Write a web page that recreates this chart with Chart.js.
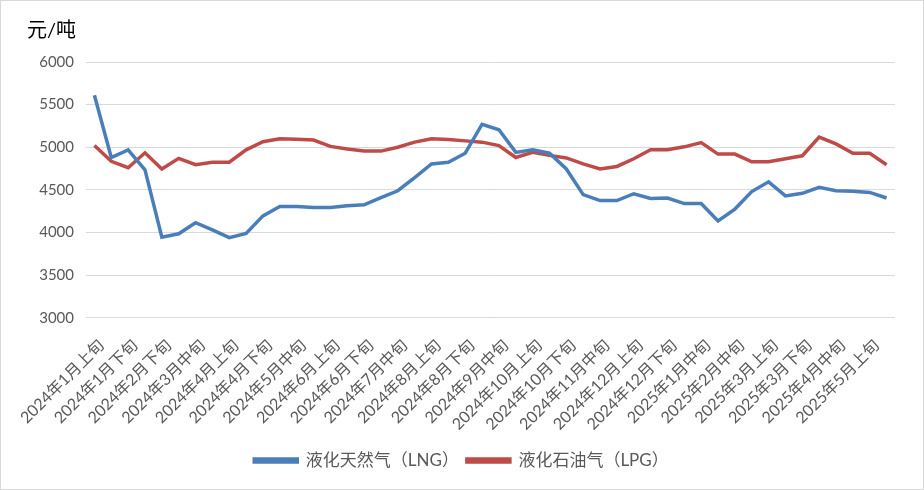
<!DOCTYPE html>
<html>
<head>
<meta charset="utf-8">
<script src="https://cdn.jsdelivr.net/npm/chart.js@4/dist/chart.umd.min.js"></script>
<style>
    html, body { margin: 0; padding: 0; background: #fff; }
    #wrap { width: 922px; height: 488px; border: 1px solid #d9d9d9; }
</style>
</head>
<body>
<div id="wrap"><canvas id="chart" width="922" height="488"></canvas></div>
<script>
// Periods (ten-day), one label shown every second period
const periods = [
    '2024年1月上旬', '2024年1月中旬', '2024年1月下旬', '2024年2月中旬', '2024年2月下旬',
    '2024年3月上旬', '2024年3月中旬', '2024年3月下旬', '2024年4月上旬', '2024年4月中旬',
    '2024年4月下旬', '2024年5月上旬', '2024年5月中旬', '2024年5月下旬', '2024年6月上旬',
    '2024年6月中旬', '2024年6月下旬', '2024年7月上旬', '2024年7月中旬', '2024年7月下旬',
    '2024年8月上旬', '2024年8月中旬', '2024年8月下旬', '2024年9月上旬', '2024年9月中旬',
    '2024年9月下旬', '2024年10月上旬', '2024年10月中旬', '2024年10月下旬', '2024年11月上旬',
    '2024年11月中旬', '2024年11月下旬', '2024年12月上旬', '2024年12月中旬', '2024年12月下旬',
    '2025年1月上旬', '2025年1月中旬', '2025年2月上旬', '2025年2月中旬', '2025年2月下旬',
    '2025年3月上旬', '2025年3月中旬', '2025年3月下旬', '2025年4月上旬', '2025年4月中旬',
    '2025年4月下旬', '2025年5月上旬', '2025年5月中旬'
];

// Prices, yuan per tonne
const lngPrice = [
    5610, 4880, 4970, 4735, 3945, 3985, 4115, 4030, 3940, 3990,
    4195, 4305, 4305, 4295, 4295, 4315, 4325, 4410, 4490, 4645,
    4805, 4825, 4930, 5270, 5205, 4940, 4970, 4930, 4745, 4445,
    4375, 4375, 4455, 4400, 4405, 4340, 4340, 4135, 4275, 4480,
    4595, 4430, 4460, 4530, 4490, 4485, 4470, 4405
];
const lpgPrice = [
    5020, 4835, 4760, 4935, 4745, 4870, 4795, 4825, 4825, 4970,
    5065, 5100, 5095, 5085, 5010, 4980, 4955, 4955, 5000, 5060,
    5100, 5090, 5075, 5060, 5020, 4880, 4940, 4905, 4875, 4805,
    4745, 4775, 4865, 4970, 4970, 5005, 5055, 4920, 4920, 4830,
    4830, 4865, 4900, 5120, 5040, 4930, 4930, 4795
];

const seriesNames = ['液化天然气（LNG）', '液化石油气（LPG）'];
const unitLabel = '元/吨';
const yTicks = { min: 3000, max: 6000, step: 500 };

const fontFamily = 'Lato, "Noto Sans CJK SC", sans-serif';
const textColor = '#595959';

// Draw the unit label in the top-left corner
const unitPlugin = {
    id: 'unitLabel',
    afterDraw(chart) {
        const ctx = chart.ctx;
        ctx.save();
        ctx.font = '20px ' + fontFamily;
        ctx.fillStyle = '#000';
        ctx.textBaseline = 'middle';
        ctx.textAlign = 'left';
        ctx.fillText(unitLabel, 26, 30);
        ctx.restore();
    }
};

const ctx = document.getElementById('chart').getContext('2d');

new Chart(ctx, {
    type: 'line',
    data: {
        labels: periods,
        datasets: [{
            label: seriesNames[0],
            data: lngPrice,
            borderColor: '#4a7ebb',
            backgroundColor: '#4a7ebb',
            borderWidth: 3.5,
            pointRadius: 0,
            tension: 0
        }, {
            label: seriesNames[1],
            data: lpgPrice,
            borderColor: '#be4b48',
            backgroundColor: '#be4b48',
            borderWidth: 3.5,
            pointRadius: 0,
            tension: 0
        }]
    },
    options: {
        responsive: false,
        animation: false,
        layout: {
            padding: { top: 61, right: 28, bottom: 10, left: 27 }
        },
        plugins: {
            legend: {
                position: 'bottom',
                labels: {
                    boxWidth: 43,
                    boxHeight: 3,
                    padding: 8,
                    color: textColor,
                    font: { family: fontFamily, size: 17 }
                }
            },
            tooltip: { enabled: false }
        },
        scales: {
            x: {
                offset: true,
                grid: { display: false },
                border: { display: false },
                ticks: {
                    autoSkip: false,
                    minRotation: 45,
                    maxRotation: 45,
                    color: textColor,
                    padding: 10,
                    labelOffset: 7,
                    font: { family: fontFamily, size: 16 },
                    callback: function(value, index) {
                        return index % 2 === 0 ? this.getLabelForValue(value) : '';
                    }
                }
            },
            y: {
                min: yTicks.min,
                max: yTicks.max,
                border: { display: false },
                grid: { color: '#d9d9d9', lineWidth: 1, drawTicks: false },
                ticks: {
                    stepSize: yTicks.step,
                    color: textColor,
                    padding: 12,
                    font: { family: fontFamily, size: 15 },
                    callback: value => String(value)
                },
                afterFit: scale => { scale.width = 58; }
            }
        }
    },
    plugins: [unitPlugin]
});
</script>
</body>
</html>
